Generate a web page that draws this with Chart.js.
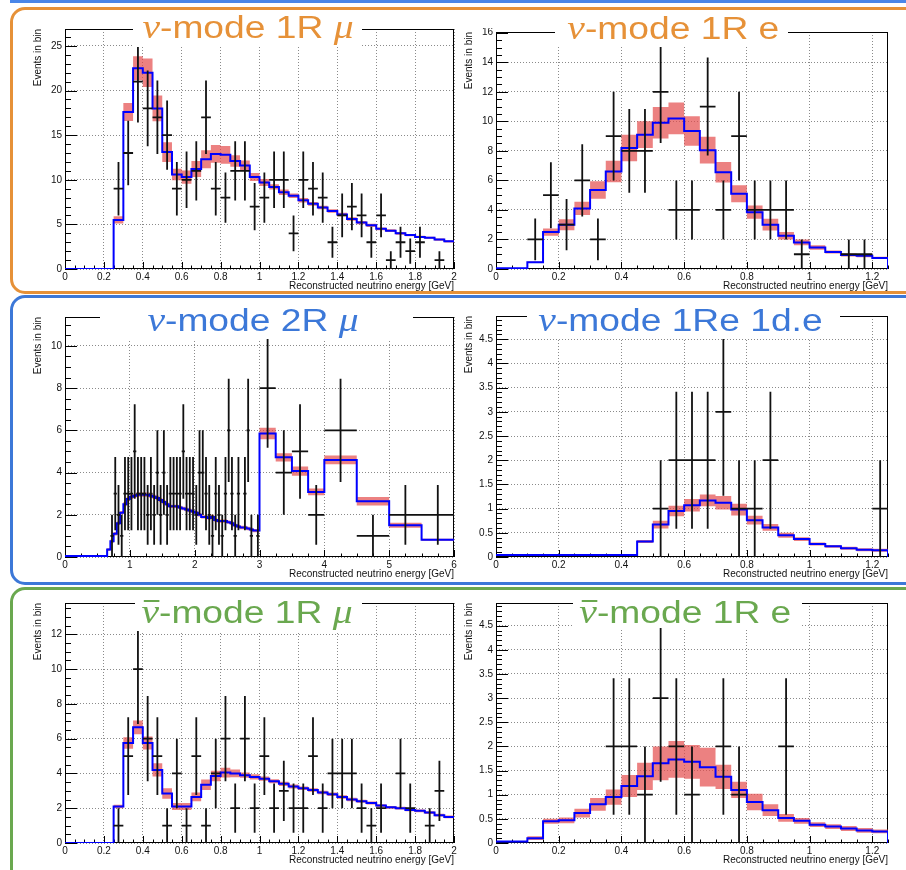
<!DOCTYPE html>
<html>
<head>
<meta charset="utf-8">
<script src="https://cdn.jsdelivr.net/npm/chart.js@4.4.1/dist/chart.umd.min.js"></script>
<style>
  html, body { margin: 0; padding: 0; background: #fff; }
  body { width: 906px; height: 870px; position: relative; overflow: hidden; font-family: "Liberation Sans", Arial, sans-serif; }
  .topline { position: absolute; left: 10px; top: 0; width: 900px; height: 2.5px; background: #4a86e8; }
  .box { position: absolute; box-sizing: border-box; border: 3.5px solid; border-radius: 15px; }
  canvas { position: absolute; }
  .ttl { position: absolute; background: #fff; text-align: center; white-space: nowrap; font-size: 31px; line-height: 30px; z-index: 5; }
  .ttl .in { display: inline-block; position: relative; transform: scaleX(1.2); }
  .gk { font-family: "Liberation Serif", serif; font-style: italic; font-size: 33px; }
  .bar { position: relative; display: inline-block; }
  .bar::before { content: ""; position: absolute; left: 2px; right: 0; top: 3px; border-top: 2px solid currentColor; }
</style>
</head>
<body>
<div class="topline"></div>
<div class="box" style="left:10px;top:7px;width:930px;height:287px;border-color:#e69138"></div>
<div class="box" style="left:10px;top:295px;width:930px;height:290px;border-color:#3c78d8"></div>
<div class="box" style="left:10px;top:587px;width:930px;height:300px;border-color:#6aa84f"></div>

<canvas id="c1" width="443" height="268" style="left:15px;top:25px"></canvas>
<canvas id="c2" width="446" height="265" style="left:446px;top:28px"></canvas>
<canvas id="c3" width="443" height="268" style="left:15px;top:313px"></canvas>
<canvas id="c4" width="446" height="269" style="left:446px;top:312px"></canvas>
<canvas id="c5" width="443" height="268" style="left:15px;top:599px"></canvas>
<canvas id="c6" width="446" height="268" style="left:446px;top:599px"></canvas>

<div class="ttl" style="left:133px;top:11.6px;width:229px;height:35.4px;color:#e69138"><span class="in" style="left:0px"><span class="gk">ν</span>-mode 1R <span class="gk">μ</span></span></div>
<div class="ttl" style="left:555px;top:12.6px;width:233px;height:34.4px;color:#e69138"><span class="in" style="left:2px"><span class="gk">ν</span>-mode 1R e</span></div>
<div class="ttl" style="left:100px;top:304.6px;width:313px;height:34.4px;color:#3c78d8"><span class="in" style="left:-4px"><span class="gk">ν</span>-mode 2R <span class="gk">μ</span></span></div>
<div class="ttl" style="left:527px;top:304.6px;width:313px;height:34.4px;color:#3c78d8"><span class="in" style="left:-3px"><span class="gk">ν</span>-mode 1Re 1d.e</span></div>
<div class="ttl" style="left:135px;top:596.6px;width:227px;height:34.4px;color:#6aa84f"><span class="in" style="left:-2px"><span class="gk bar">ν</span>-mode 1R <span class="gk">μ</span></span></div>
<div class="ttl" style="left:573px;top:596.6px;width:229px;height:31.4px;color:#6aa84f"><span class="in" style="left:-2px"><span class="gk bar">ν</span>-mode 1R e</span></div>

<script>
// ---- binning ----
function steps(from, to, w) {
  const out = [];
  const n = Math.round((to - from) / w);
  for (let i = 0; i <= n; i++) out.push(Math.round((from + i * w) * 1000) / 1000);
  return out;
}
const edges2GeV = steps(0, 2, 0.05);
const edges125 = steps(0, 1.25, 0.05);
const edges2Rmu = steps(0, 3, 0.05).concat([3.25, 3.5, 3.75, 4, 4.5, 5, 5.5, 6]);

// ---- nu-mode 1R mu ----
const mu1Mc = [0, 0, 0, 0, 0, 5.5, 17.6, 22.5, 22.0, 18.0, 13.1, 10.6, 10.3, 11.2, 12.3, 12.9, 12.8, 12.1, 11.6, 10.3,
  9.7, 9.2, 8.6, 8.2, 7.7, 7.3, 6.9, 6.5, 6.1, 5.6, 5.2, 4.9, 4.5, 4.3, 4.0, 3.8, 3.6, 3.5, 3.3, 3.1];
const mu1Err = [0, 0, 0, 0, 0, 0.4, 1.0, 1.35, 1.6, 1.45, 1.1, 0.65, 0.75, 0.9, 1.0, 1.0, 1.0, 0.65, 0.55, 0.45,
  0.4, 0.3, 0.3, 0.25, 0.25, 0.2, 0.2, 0.2, 0.2, 0.2, 0.18, 0.18, 0.15, 0.15, 0.15, 0.12, 0.12, 0.12, 0.12, 0.12];
const mu1Data = [0, 0, 0, 0, 0, 9, 13, 21, 18, 17, 15, 9, 10, 11, 17, 9, 8, 11, 11, 7,
  8, 10, 10, 4, 10, 9, 8, 3, 6, 7, 6, 3, 6, 1, 3, 2, 3, 0, 1, 0];

// ---- nu-mode 1R e ----
const e1Mc = [0.05, 0.05, 0.45, 2.5, 3.0, 4.1, 5.35, 6.6, 8.2, 9.1, 9.9, 10.2, 9.35, 8.05, 6.55,
  5.1, 3.85, 3.0, 2.25, 1.8, 1.45, 1.15, 0.95, 0.9, 0.75];
const e1Err = [0, 0, 0.05, 0.25, 0.37, 0.45, 0.6, 0.73, 0.9, 0.9, 1.07, 1.07, 1.0, 0.9, 0.7,
  0.58, 0.45, 0.4, 0.25, 0.2, 0.15, 0.1, 0.1, 0.1, 0.08];
const e1Data = [0, 0, 2, 5, 3, 6, 2, 9, 8, 8, 12, 4, 4, 11, 4, 9, 4, 4, 4, 1, 0, 0, 1, 1, 0];

// ---- nu-mode 2R mu ----
const mu2Mc = [0.05, 0.05, 0.05, 0.05, 0.05, 0.05, 0.05, 0.05, 0.05, 0.05, 0.05, 0.05, 0.05,
  0.35, 0.75, 1.1, 1.6, 2.1, 2.5, 2.75, 2.85, 2.9, 2.95, 2.95, 2.95, 2.95, 2.9, 2.85, 2.8, 2.7,
  2.6, 2.5, 2.4, 2.4, 2.4, 2.35, 2.3, 2.25, 2.2, 2.15, 2.1, 2.0, 1.9, 1.9, 1.85, 1.9, 1.75, 1.7,
  1.7, 1.7, 1.65, 1.6, 1.5, 1.45, 1.4, 1.4, 1.35, 1.3, 1.25, 1.25,
  5.85, 4.72, 4.07, 3.08, 4.6, 2.64, 1.5, 0.82];
const mu2Err = [0, 0, 0, 0, 0, 0, 0, 0, 0, 0, 0, 0, 0,
  0.06, 0.08, 0.08, 0.08, 0.08, 0.1, 0.1, 0.1, 0.1, 0.1, 0.1, 0.1, 0.1, 0.1, 0.1, 0.1, 0.1,
  0.1, 0.08, 0.08, 0.08, 0.08, 0.08, 0.08, 0.08, 0.08, 0.08, 0.08, 0.08, 0.08, 0.08, 0.08, 0.1, 0.08, 0.08,
  0.08, 0.08, 0.08, 0.08, 0.08, 0.08, 0.08, 0.08, 0.08, 0.08, 0.08, 0.08,
  0.27, 0.2, 0.22, 0.16, 0.21, 0.2, 0.12, 0.05];
const mu2Data = [0, 0, 0, 0, 0, 0, 0, 0, 0, 0, 0, 0, 0, 0,
  1, 3, 2, 1, 3, 3, 3, 5, 3, 3, 3, 2, 3, 2, 4, 2, 4, 2, 3, 3, 3, 3, 5, 3, 3, 3,
  2, 4, 4, 3, 2, 1, 3, 2, 1, 3, 6, 3, 1, 3, 0, 3, 6, 1, 0, 1,
  8, 4, 5, 2, 6, 1, 2, 2];

// ---- nu-mode 1Re 1d.e ----
const de1Mc = [0.04, 0.04, 0.04, 0.04, 0.04, 0.04, 0.04, 0.04, 0.04, 0.32, 0.67, 0.95, 1.07, 1.17,
  1.12, 0.98, 0.76, 0.61, 0.45, 0.37, 0.27, 0.22, 0.18, 0.15, 0.14];
const de1Err = [0, 0, 0, 0, 0, 0, 0, 0, 0, 0.03, 0.08, 0.11, 0.13, 0.12,
  0.14, 0.12, 0.09, 0.07, 0.05, 0.04, 0.03, 0.03, 0.03, 0.03, 0.03];
const de1Data = [0, 0, 0, 0, 0, 0, 0, 0, 0, 0, 1, 2, 2, 2, 3, 1, 1, 2, 0, 0, 0, 0, 0, 0, 1];

// ---- anti-nu-mode 1R mu ----
const barMuMc = [0, 0, 0, 0, 0, 2.1, 5.75, 6.65, 5.75, 4.2, 2.85, 2.1, 2.1, 2.65, 3.35, 3.85, 4.05, 4.0, 3.9, 3.8,
  3.7, 3.55, 3.4, 3.25, 3.15, 3.05, 2.9, 2.8, 2.65, 2.5, 2.4, 2.3, 2.15, 2.05, 2.0, 1.9, 1.85, 1.75, 1.6, 1.5];
const barMuErr = [0, 0, 0, 0, 0, 0.1, 0.33, 0.4, 0.38, 0.38, 0.3, 0.2, 0.2, 0.25, 0.3, 0.3, 0.28, 0.22, 0.15, 0.15,
  0.12, 0.12, 0.12, 0.12, 0.1, 0.1, 0.1, 0.1, 0.1, 0.1, 0.08, 0.08, 0.08, 0.08, 0.08, 0.08, 0.08, 0.08, 0.08, 0.08];
const barMuData = [0, 0, 0, 0, 0, 1, 5, 10, 6, 5, 1, 4, 1, 5, 1, 4, 6, 2, 6, 2,
  5, 2, 3, 2, 2, 5, 2, 4, 4, 4, 2, 1, 2, 0, 4, 2, 0, 1, 3, 0];

// ---- anti-nu-mode 1R e ----
const barEMc = [0.03, 0.03, 0.1, 0.45, 0.47, 0.62, 0.8, 0.95, 1.18, 1.38, 1.65, 1.73, 1.68, 1.57, 1.37,
  1.1, 0.85, 0.68, 0.52, 0.46, 0.38, 0.34, 0.3, 0.26, 0.24];
const barEErr = [0, 0, 0.04, 0.05, 0.06, 0.09, 0.13, 0.16, 0.23, 0.28, 0.35, 0.38, 0.35, 0.4, 0.25,
  0.17, 0.17, 0.12, 0.08, 0.06, 0.05, 0.05, 0.05, 0.05, 0.04];
const barEData = [0, 0, 0, 0, 0, 0, 0, 2, 2, 1, 3, 2, 1, 0, 2, 1, 0, 0, 2, 0, 0, 0, 0, 0, 0];

// ---- helpers ----
function histPoints(edges, vals, drop) {
  const pts = vals.map((v, i) => ({ x: edges[i], y: v }));
  pts.push({ x: edges[edges.length - 1], y: vals[vals.length - 1] });
  if (drop) pts.push({ x: edges[edges.length - 1], y: 0 });
  return pts;
}

// data crosses: vertical sqrt(N) bar + horizontal bin-width bar, separated by gaps
function crossPoints(edges, counts) {
  const pts = [];
  counts.forEach((n, i) => {
    if (!n) return;
    const lo = edges[i], hi = edges[i + 1], c = (lo + hi) / 2, s = Math.sqrt(n);
    pts.push({ x: c, y: n - s }, { x: c, y: n + s }, { x: c, y: null },
             { x: lo, y: n }, { x: hi, y: n }, { x: hi, y: null });
  });
  return pts;
}

const fmt = v => String(Math.round(v * 100) / 100);

// ROOT-like frame with inward major/minor ticks
const rootFrame = {
  id: 'rootFrame',
  beforeDatasetsDraw(chart, args, o) {
    const { ctx, chartArea: a, scales: { x, y } } = chart;
    const isMajor = (v, m) => Math.abs(v / m - Math.round(v / m)) < 1e-6;
    ctx.save();
    ctx.strokeStyle = '#000';
    ctx.lineWidth = 1;
    ctx.beginPath();
    const ny = Math.floor(y.max / o.yMinor + 1e-6);
    for (let i = 0; i <= ny; i++) {
      const v = i * o.yMinor;
      const py = Math.round(y.getPixelForValue(v)) + 0.5;
      ctx.moveTo(a.left, py);
      ctx.lineTo(a.left + (isMajor(v, o.yMajor) ? 12 : 6), py);
    }
    const nx = Math.floor(x.max / o.xMinor + 1e-6);
    for (let i = 0; i <= nx; i++) {
      const v = i * o.xMinor;
      const px = Math.round(x.getPixelForValue(v)) + 0.5;
      ctx.moveTo(px, a.bottom);
      ctx.lineTo(px, a.bottom - (isMajor(v, o.xMajor) ? 7 : 3.5));
    }
    ctx.stroke();
    ctx.strokeRect(Math.round(a.left) + 0.5, Math.round(a.top) + 0.5, Math.round(a.width) - 1, Math.round(a.height) - 1);
    ctx.restore();
  }
};

Chart.defaults.font.family = '"Liberation Sans", Arial, sans-serif';
Chart.defaults.font.size = 10;
Chart.defaults.color = '#111';

const panels = [
  { id: 'c1', edges: edges2GeV, mc: mu1Mc, err: mu1Err, data: mu1Data, xMax: 2, yMax: 26.9, xMajor: 0.2, xMinor: 0.05, yMajor: 5, yMinor: 1, drop: false },
  { id: 'c2', edges: edges125, mc: e1Mc, err: e1Err, data: e1Data, xMax: 1.25, yMax: 16.05, xMajor: 0.2, xMinor: 0.05, yMajor: 2, yMinor: 0.5, drop: true },
  { id: 'c3', edges: edges2Rmu, mc: mu2Mc, err: mu2Err, data: mu2Data, xMax: 6, yMax: 11.37, xMajor: 1, xMinor: 0.25, yMajor: 2, yMinor: 0.5, drop: false },
  { id: 'c4', edges: edges125, mc: de1Mc, err: de1Err, data: de1Data, xMax: 1.25, yMax: 4.98, xMajor: 0.2, xMinor: 0.05, yMajor: 0.5, yMinor: 0.1, drop: true },
  { id: 'c5', edges: edges2GeV, mc: barMuMc, err: barMuErr, data: barMuData, xMax: 2, yMax: 13.8, xMajor: 0.2, xMinor: 0.05, yMajor: 2, yMinor: 0.5, drop: false },
  { id: 'c6', edges: edges125, mc: barEMc, err: barEErr, data: barEData, xMax: 1.25, yMax: 4.97, xMajor: 0.2, xMinor: 0.05, yMajor: 0.5, yMinor: 0.1, drop: true }
];

panels.forEach(p => {
  const ctx = document.getElementById(p.id).getContext('2d');
  new Chart(ctx, {
    type: 'line',
    data: {
      datasets: [
        {
          // data points with error bars
          data: crossPoints(p.edges, p.data),
          borderColor: '#111',
          borderWidth: 1.8,
          pointRadius: 0,
          spanGaps: false,
          fill: false
        },
        {
          // MC prediction
          data: histPoints(p.edges, p.mc, p.drop),
          borderColor: '#0000ff',
          borderWidth: 2,
          pointRadius: 0,
          stepped: true,
          fill: false
        },
        {
          // band upper edge
          data: histPoints(p.edges, p.mc.map((v, i) => v + p.err[i]), false),
          borderColor: 'transparent',
          borderWidth: 0,
          pointRadius: 0,
          stepped: true,
          fill: false
        },
        {
          // band lower edge, filled up to the upper edge
          data: histPoints(p.edges, p.mc.map((v, i) => v - p.err[i]), false),
          borderColor: 'transparent',
          borderWidth: 0,
          pointRadius: 0,
          stepped: true,
          fill: '-1',
          backgroundColor: 'rgba(228, 76, 76, 0.7)'
        }
      ]
    },
    options: {
      responsive: false,
      animation: false,
      events: [],
      layout: { padding: { left: 0, right: 4, top: 4, bottom: 0 } },
      scales: {
        x: {
          type: 'linear',
          min: 0,
          max: p.xMax,
          ticks: { stepSize: p.xMajor, includeBounds: false, autoSkip: false, maxRotation: 0, padding: 2, callback: fmt },
          grid: { color: '#8a8a8a', lineWidth: 1, drawTicks: false },
          border: { display: false, dash: [1, 2] },
          title: { display: true, text: 'Reconstructed neutrino energy [GeV]', align: 'end', padding: { top: 0, bottom: 1 } },
          afterFit: s => { s.height = 24; s.paddingLeft = 0; s.paddingRight = 0; }
        },
        y: {
          type: 'linear',
          min: 0,
          max: p.yMax,
          ticks: { stepSize: p.yMajor, includeBounds: false, autoSkip: false, padding: 3, callback: fmt },
          grid: { color: '#8a8a8a', lineWidth: 1, drawTicks: false },
          border: { display: false, dash: [1, 2] },
          title: { display: true, text: 'Events in bin', align: 'end', padding: { top: 17, bottom: 0 } },
          afterFit: s => { s.width = 50; s.paddingTop = 0; s.paddingBottom = 0; }
        }
      },
      plugins: {
        legend: { display: false },
        tooltip: { enabled: false },
        rootFrame: { xMajor: p.xMajor, xMinor: p.xMinor, yMajor: p.yMajor, yMinor: p.yMinor }
      }
    },
    plugins: [rootFrame]
  });
});
</script>
</body>
</html>
